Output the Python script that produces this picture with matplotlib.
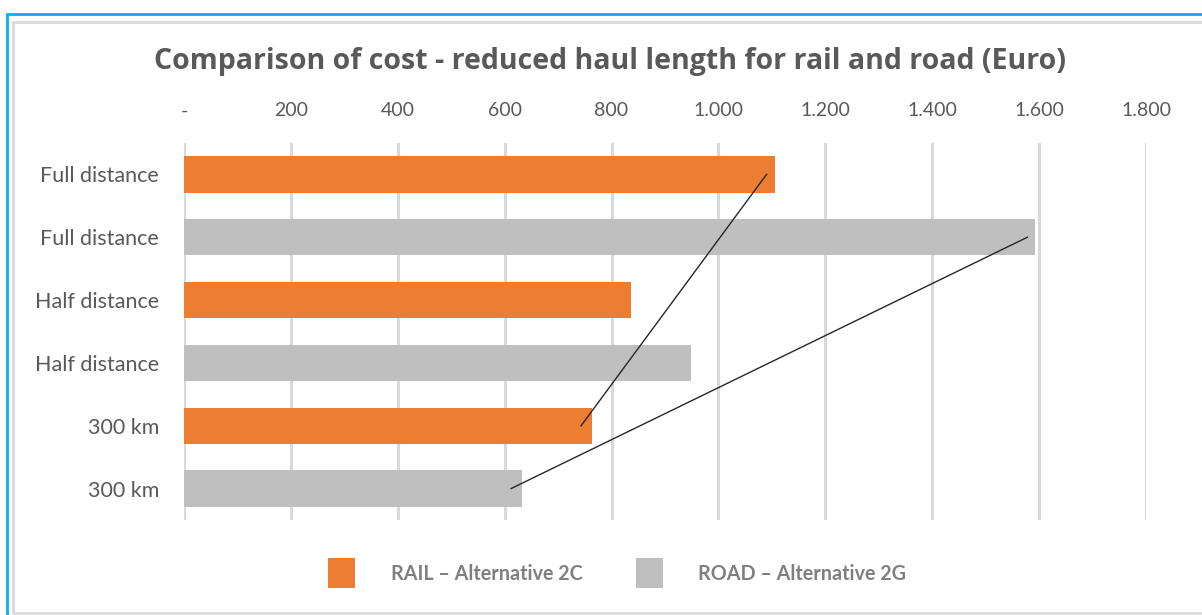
import matplotlib
matplotlib.use("Agg")
import matplotlib.pyplot as plt
from matplotlib.patches import Rectangle

# Data
categories = ["Full distance", "Full distance", "Half distance",
              "Half distance", "300 km", "300 km"]
costs = [1105, 1593, 837, 948, 764, 632]
series = ["RAIL", "ROAD", "RAIL", "ROAD", "RAIL", "ROAD"]
legend_keys = ["RAIL", "ROAD"]
legend_labels = ["RAIL – Alternative 2C", "ROAD – Alternative 2G"]
colors = {"RAIL": "#ED7D31", "ROAD": "#BFBFBF"}
x_ticks = [0, 200, 400, 600, 800, 1000, 1200, 1400, 1600, 1800]
# Trend strokes drawn across the bars (cost, category index)
rail_trend_x = [1090, 743]
rail_trend_y = [0, 4]
road_trend_x = [1578, 612]
road_trend_y = [1, 5]

title = "Comparison of cost - reduced haul length for rail and road (Euro)"

W, H = 1202, 615
fig = plt.figure(figsize=(W / 100, H / 100), dpi=100)
fig.patch.set_facecolor("white")

# Outer frames
fig.add_artist(Rectangle((7 / W, -0.05), 1.2, (H - 14) / H + 0.05, transform=fig.transFigure,
                         fill=False, edgecolor="#00B0F0", linewidth=2.0))
fig.add_artist(Rectangle((12.5 / W, 2.5 / H), 1.2, (H - 21.5 - 2.5) / H, transform=fig.transFigure,
                         fill=False, edgecolor="#D9D9D9", linewidth=2.0))

ax = fig.add_axes([184 / W, 1 - 520 / H, (1146 - 184) / W, (520 - 143) / H])
ypos = list(range(len(categories)))
ax.barh(ypos, costs, height=0.58, color=[colors[s] for s in series], zorder=2)
ax.plot(rail_trend_x, rail_trend_y, color="#262626", linewidth=1.0, zorder=3)
ax.plot(road_trend_x, road_trend_y, color="#262626", linewidth=1.0, zorder=3)

ax.set_xlim(0, 1800)
ax.set_ylim(len(categories) - 0.5, -0.5)
ax.set_yticks(ypos)
ax.set_yticklabels(categories, fontsize=15.5, color="#595959", family="Lato")
ax.xaxis.tick_top()
ax.set_xticks(x_ticks)
ax.set_xticklabels(["-" if v == 0 else f"{v:,}".replace(",", ".") for v in x_ticks],
                   fontsize=14, color="#595959", family="Lato")
ax.tick_params(axis="both", length=0)
ax.tick_params(axis="x", pad=17)
ax.tick_params(axis="y", pad=18)
ax.grid(axis="x", color="#D9D9D9", linewidth=2.2, zorder=0)
for s in ax.spines.values():
    s.set_visible(False)

fig.text(610 / W, 1 - 62 / H, title, ha="center", va="center",
         fontsize=20.5, fontweight="bold", color="#595959", family="Open Sans")

# Legend: colour swatches with bold labels below the plot
swatch_x = [328, 636]
label_x = [391, 698]
for key, label, sx, lx in zip(legend_keys, legend_labels, swatch_x, label_x):
    fig.add_artist(Rectangle((sx / W, 1 - 588 / H), 27 / W, 30 / H,
                             transform=fig.transFigure, facecolor=colors[key],
                             edgecolor="none"))
    fig.text(lx / W, 1 - 574 / H, label, ha="left", va="center",
             fontsize=14.2, fontweight="bold", color="#7F7F7F", family="Lato")

fig.savefig("out.png", dpi=100, facecolor="white")
